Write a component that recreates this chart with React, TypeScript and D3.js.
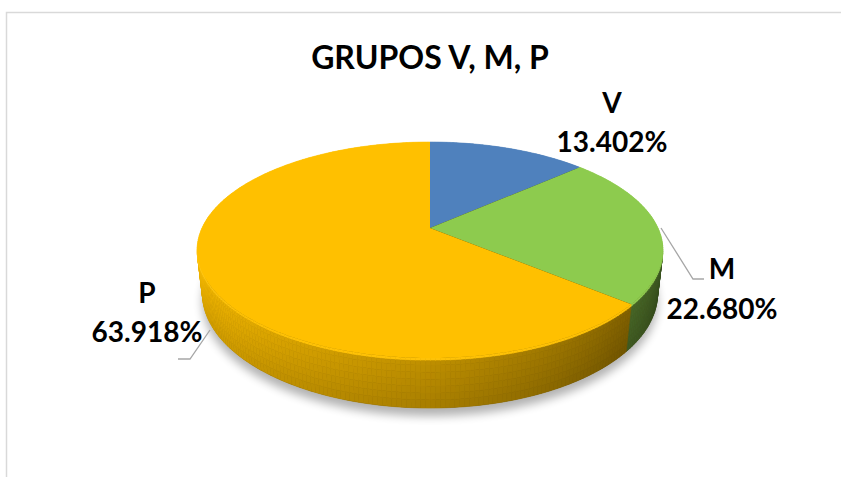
import * as d3 from 'd3';

// data
const categories = ['V', 'M', 'P'];
const values = [13.402, 22.68, 63.918];
const valueLabels = ['13.402%', '22.680%', '63.918%'];
const colors = ['#4F81BD', '#8DCB4E', '#FFC000'];
const title = 'GRUPOS V, M, P';

const W = 841;
const H = 477;

// 3d projection of the disc (tilt + perspective, like excel's 3-D pie)
const cx = 430, cy = 228;
const D = 4.373, f = 997;
const sinA = 0.454, cosA = 0.891;
const depth = 0.216;

function project(theta: number, w: number, r = 1): [number, number] {
	const u = r * Math.sin(theta);
	const v = r * Math.cos(theta);
	const Y = v * sinA + w * cosA;
	const Z = v * cosA - w * sinA;
	return [cx + (f * u) / (D + Z), cy - (f * Y) / (D + Z)];
}

// label placement (screen px)
const labelPos = [
	{ x: 612, y1: 113, y2: 152, line: null },
	{ x: 722, y1: 279, y2: 319, line: [[661, 228], [693, 279], [704, 279]] },
	{ x: 147, y1: 303, y2: 342, line: [[210, 330], [190, 359], [178, 359]] },
];

const step = Math.PI / 180;

// light from the left: brighter around theta ~ 255deg, darker toward the right
const lightScale = d3.scaleLinear().domain([90, 110, 135, 180, 230, 262, 290]).range([0.38, 0.42, 0.52, 0.74, 0.9, 0.97, 0.9]).clamp(true);

function shadeSide(color: string, theta: number, t: number) {
	// t: 0 at the top edge, 1 at the bottom
	const deg = (theta * 180) / Math.PI;
	let k = lightScale(deg) * (1.02 - 0.14 * t);
	if (t < 0.05) k = Math.max(k, 0.9) + 0.12;
	if (k > 1) return d3.interpolateRgb(color, '#fff2a0')(Math.min(1, (k - 1) * 2.2));
	return d3.interpolateRgb('#000', color)(k);
}

export default function App() {
	const pie = d3.pie<number>().sort(null).value((d) => d)(values);
	const line = d3.line();

	const tops = pie.map((p, i) => {
		const pts: [number, number][] = [project(0, 0, 0)];
		for (let a = p.startAngle; a < p.endAngle; a += step) pts.push(project(a, 0));
		pts.push(project(p.endAngle, 0));
		return { d: line(pts) + 'Z', color: colors[i] };
	});

	// rim, split into thin bands so it shades smoothly
	const ws = [0, -0.012, -0.03, -0.06, -0.09, -0.12, -0.15, -0.18, -depth];
	const sides: { d: string; fill: string; z: number }[] = [];
	pie.forEach((p, i) => {
		for (let a = p.startAngle; a < p.endAngle - 1e-9; a += step) {
			const b = Math.min(a + step, p.endAngle);
			const mid = (a + b) / 2;
			for (let k = 0; k < ws.length - 1; k++) {
				const pts = [project(a, ws[k]), project(b, ws[k]), project(b, ws[k + 1]), project(a, ws[k + 1])];
				const t = (-(ws[k] + ws[k + 1]) / 2) / depth;
				sides.push({ d: line(pts as [number, number][]) + 'Z', fill: shadeSide(colors[i], mid, t), z: Math.cos(mid) });
			}
		}
	});
	sides.sort((a, b) => b.z - a.z);

	const bottomPts: [number, number][] = [];
	for (let a = 0; a < Math.PI * 2; a += step) bottomPts.push(project(a, -depth));
	const bottomPath = line(bottomPts) + 'Z';

	return (
		<svg width={W} height={H} style={{ position: 'absolute', left: 0, top: 0, background: '#fff' }}>
			<defs>
				<filter id="blur" x="-20%" y="-20%" width="140%" height="140%">
					<feGaussianBlur stdDeviation="5" />
				</filter>
			</defs>
			<rect x={6.5} y={12.5} width={900} height={600} fill="#fff" stroke="#D9D9D9" strokeWidth={1.5} />
			<text x={430} y={69} textAnchor="middle" fontFamily="Lato, 'Noto Sans', sans-serif" fontWeight="bold" fontSize={32} fill="#000">
				{title}
			</text>

			<path d={bottomPath} transform="translate(0,8)" fill="#000" opacity={0.3} filter="url(#blur)" />
			<path d={bottomPath} fill="#4a3a00" />
			{sides.map((s, i) => (
				<path key={i} d={s.d} fill={s.fill} stroke={s.fill} strokeWidth={0.6} />
			))}
			{tops.map((t, i) => (
				<path key={i} d={t.d} fill={t.color} />
			))}

			{labelPos.map((l, i) =>
				l.line ? (
					<polyline key={'l' + i} points={l.line.map((p) => p.join(',')).join(' ')} fill="none" stroke="#A6A6A6" strokeWidth={1.3} />
				) : null
			)}
			{labelPos.map((l, i) => (
				<g key={'t' + i} fontFamily="Lato, 'Noto Sans', sans-serif" fontWeight="bold" fontSize={28} fill="#000" textAnchor="middle">
					<text x={l.x} y={l.y1}>{categories[i]}</text>
					<text x={l.x} y={l.y2}>{valueLabels[i]}</text>
				</g>
			))}
		</svg>
	);
}
